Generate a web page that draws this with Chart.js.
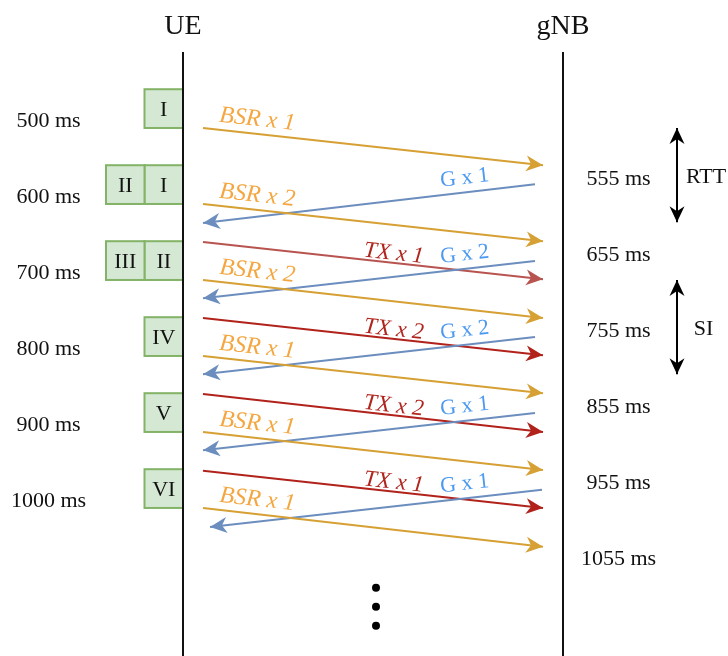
<!DOCTYPE html>
<html><head><meta charset="utf-8">
<script src="https://cdn.jsdelivr.net/npm/chart.js@4.4.1/dist/chart.umd.min.js"></script>
<style>html,body{margin:0;padding:0;background:#fff}#wrap{width:728px;height:656px;position:relative}</style>
</head><body><div id="wrap"><canvas id="c"></canvas></div>
<script>
// ---------- DATA (times in ms) ----------
const ueTimes    = [500, 600, 700, 800, 900, 1000];
const gnbTimes   = [555, 655, 755, 855, 955, 1055];
const boxLabels  = [["I"], ["II","I"], ["III","II"], ["IV"], ["V"], ["VI"]];
const boxStart   = [459, 559, 659, 759, 859, 959];
const boxEnd     = [510, 610, 710, 810, 910, 1010];
const bsrSend    = [510, 610, 710, 810, 910, 1010];
const bsrArrive  = [559, 659, 760, 859, 960, 1061];
const bsrCount   = [1, 2, 2, 1, 1, 1];
const grantSend  = [584, 685, 785, 885, 986];
const grantArrive= [635, 734, 834, 934, 1035];
const grantCount = [1, 2, 2, 1, 1];
const txSend     = [660, 760, 860, 961];
const txArrive   = [709, 809, 910, 1010];
const txCount    = [1, 2, 2, 1];
const rttSpan    = [510, 634];
const siSpan     = [710, 834];
const ellipsis   = [1115, 1140, 1165];

// ---------- LAYOUT / STYLE ----------
const Y_MIN = 341.6, Y_MAX = 1204.8, LIFE_TOP = 410;
const UE_X = 183, GNB_X = 563;
const UP_L = 203, UP_R = 543;
const DN_R = 535, DN_L = 203;
const grantShift = [0, 0, 0, 0, 7];
const SPAN_X = 677, DOTS_X = 376;
const SERIF = '"Liberation Serif", "Times New Roman", serif';
const C_ORANGE = '#d6a034', C_ORANGE_T = '#f4a741';
const C_BLUE = '#6c8ebf', C_BLUE_T = '#4e9af1';
const txLineColors = ['#b85450', '#b1221b', '#b1221b', '#b1221b'];
const C_RED_T = '#b0261e';

const datasets = [];
function seg(x1, y1, x2, y2, color, extra) {
  datasets.push(Object.assign({
    type: 'line', data: [{x: x1, y: y1}, {x: x2, y: y2}],
    borderColor: color, backgroundColor: color, borderWidth: 2,
    pointRadius: 0, pointHoverRadius: 0, fill: false, tension: 0
  }, extra || {}));
}
// lifelines
seg(UE_X, LIFE_TOP, UE_X, Y_MAX, '#111111', {borderWidth: 2});
seg(GNB_X, LIFE_TOP, GNB_X, Y_MAX, '#111111', {borderWidth: 2});
// BSR
bsrSend.forEach((t, i) => seg(UP_L, t, UP_R, bsrArrive[i], C_ORANGE,
  {arrow: 'end', text: 'BSR x ' + bsrCount[i], textX: 218, textOff: 8,
   font: 'italic 24px ' + SERIF, textColor: C_ORANGE_T}));
// Grants
grantSend.forEach((t, i) => seg(DN_R + grantShift[i], t, DN_L + grantShift[i], grantArrive[i], C_BLUE,
  {arrow: 'end', text: 'G x ' + grantCount[i], textX: 442, textOff: 8.5,
   font: '22px ' + SERIF, textColor: C_BLUE_T}));
// TX
txSend.forEach((t, i) => seg(UP_L, t, UP_R, txArrive[i], txLineColors[i],
  {arrow: 'end', text: 'TX x ' + txCount[i], textX: 363, textOff: 3,
   font: 'italic 23px ' + SERIF, textColor: C_RED_T}));
// RTT / SI spans
seg(SPAN_X, rttSpan[0], SPAN_X, rttSpan[1], '#000000', {arrow: 'both', head: 'black'});
seg(SPAN_X, siSpan[0], SPAN_X, siSpan[1], '#000000', {arrow: 'both', head: 'black'});
// ellipsis dots
datasets.push({type: 'scatter', data: ellipsis.map(t => ({x: DOTS_X, y: t})),
  pointRadius: 4, pointBackgroundColor: '#000', pointBorderWidth: 0, showLine: false});

function head(ctx, x1, y1, x2, y2, color, L, W, N) {
  const a = Math.atan2(y2 - y1, x2 - x1);
  ctx.save();
  ctx.translate(x2, y2); ctx.rotate(a);
  ctx.beginPath();
  ctx.moveTo(0, 0); ctx.lineTo(-L, -W); ctx.lineTo(-N, 0); ctx.lineTo(-L, W); ctx.closePath();
  ctx.fillStyle = color; ctx.fill();
  ctx.restore();
}

const diagram = {
  id: 'diagram',
  afterDatasetsDraw(chart) {
    const ctx = chart.ctx, xs = chart.scales.x, ys = chart.scales.y;
    const px = v => xs.getPixelForValue(v), py = v => ys.getPixelForValue(v);
    ctx.save();
    chart.data.datasets.forEach(ds => {
      if (!ds.arrow) return;
      const a = ds.data[0], b = ds.data[1];
      const x1 = px(a.x), y1 = py(a.y), x2 = px(b.x), y2 = py(b.y);
      if (ds.head === 'black') {
        head(ctx, x1, y1, x2, y2, '#000', 16, 7.5, 11);
        head(ctx, x2, y2, x1, y1, '#000', 16, 7.5, 11);
      } else {
        head(ctx, x1, y1, x2, y2, ds.borderColor, 17, 8, 12);
      }
      if (ds.text) {
        const lx = Math.min(x1, x2) === x1 ? [x1, y1, x2, y2] : [x2, y2, x1, y1];
        const ang = Math.atan2(lx[3] - lx[1], lx[2] - lx[0]);
        const f = (ds.textX - lx[0]) / (lx[2] - lx[0]);
        const ty = lx[1] + f * (lx[3] - lx[1]);
        ctx.save();
        ctx.translate(ds.textX, ty); ctx.rotate(ang);
        ctx.font = ds.font; ctx.fillStyle = ds.textColor;
        ctx.textAlign = 'left'; ctx.textBaseline = 'alphabetic';
        ctx.fillText(ds.text, 0, -ds.textOff);
        ctx.restore();
      }
    });
    // boxes
    boxLabels.forEach((labs, i) => {
      const top = py(boxStart[i]), bot = py(boxEnd[i]);
      let right = px(UE_X);
      for (let k = labs.length - 1; k >= 0; k--) {
        const w = 38.5;
        ctx.fillStyle = '#d5e8d4'; ctx.strokeStyle = '#82b366'; ctx.lineWidth = 2;
        ctx.fillRect(right - w, top, w, bot - top);
        ctx.strokeRect(right - w, top, w, bot - top);
        ctx.fillStyle = '#111'; ctx.font = '22px ' + SERIF;
        ctx.textAlign = 'center'; ctx.textBaseline = 'alphabetic';
        ctx.fillText(labs[k], right - w / 2, (top + bot) / 2 + 7.5);
        right -= w;
      }
    });
    // redraw UE lifeline over box edges
    ctx.strokeStyle = '#111'; ctx.lineWidth = 2;
    ctx.beginPath(); ctx.moveTo(px(UE_X), py(LIFE_TOP)); ctx.lineTo(px(UE_X), py(Y_MAX)); ctx.stroke();
    // time labels
    ctx.fillStyle = '#111'; ctx.font = '22px ' + SERIF; ctx.textAlign = 'center';
    ueTimes.forEach(t => ctx.fillText(t + ' ms', 48.5, py(t) + 7));
    gnbTimes.forEach(t => ctx.fillText(t + ' ms', 618.5, py(t + 20) + 7.5));
    ctx.fillText('RTT', 706, py((rttSpan[0] + rttSpan[1]) / 2) + 7.5);
    ctx.fillText('SI', 703.5, py((siSpan[0] + siSpan[1]) / 2) + 7.5);
    // titles
    ctx.font = '28px ' + SERIF;
    ctx.fillText('UE', px(UE_X), 33.5);
    ctx.fillText('gNB', px(GNB_X), 33.5);
    ctx.restore();
  }
};

new Chart(document.getElementById('c'), {
  type: 'scatter',
  data: {datasets},
  options: {
    responsive: true, maintainAspectRatio: false, animation: false,
    layout: {padding: 0, autoPadding: false},
    plugins: {legend: {display: false}, tooltip: {enabled: false}},
    events: [],
    scales: {
      x: {type: 'linear', min: 0, max: 728, display: false},
      y: {type: 'linear', min: Y_MIN, max: Y_MAX, reverse: true, display: false}
    }
  },
  plugins: [diagram]
});
</script>
</body></html>
